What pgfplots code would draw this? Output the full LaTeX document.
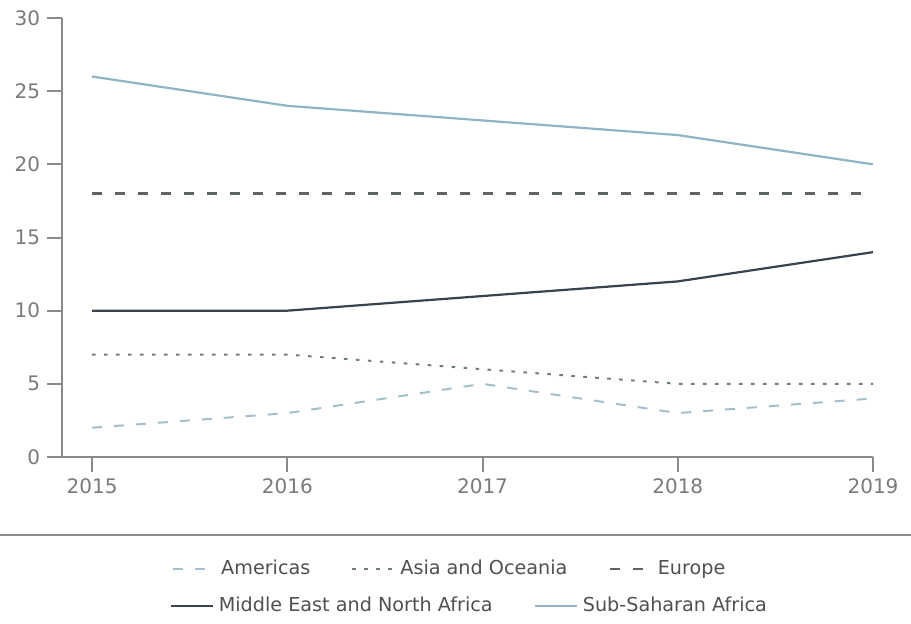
\documentclass[border=0pt]{standalone}
\usepackage{pgfplots}
\pgfplotsset{compat=1.18}
\usepackage{fontspec}
\setmainfont{DejaVu Sans}
\definecolor{axgrey}{HTML}{8A8A8A}
\definecolor{txtgrey}{HTML}{7A7A7A}
\definecolor{legtxt}{HTML}{505050}
\definecolor{amer}{HTML}{A3BFCB}
\definecolor{asia}{HTML}{6E7C84}
\definecolor{euro}{HTML}{5E6366}
\definecolor{mena}{HTML}{38434D}
\definecolor{ssa}{HTML}{8FB4C6}
\pgfplotsset{
  mylegend/.style={
    legend cell align=left,
    legend image code/.code={\draw[##1] (0pt,0pt) -- (21pt,0pt);},
    legend style={anchor=center, draw=none, fill=none,
      font=\fontsize{9.6}{11}\selectfont, text=legtxt, column sep=0pt,
      nodes={inner xsep=2.5pt},
      /tikz/every even column/.append style={column sep=18pt}},
  }
}
\begin{document}
\begin{tikzpicture}
\useasboundingbox (-31pt,-83pt) rectangle (424.5pt,228.5pt);
\begin{axis}[
  at={(0,0)}, anchor=origin,
  scale only axis, width=405.5pt, height=219.5pt,
  xmin=2014.846, xmax=2019, ymin=0, ymax=30,
  axis lines=left, axis line style={-, axgrey, line width=1pt},
  xtick={2015,2016,2017,2018,2019}, ytick={0,5,10,15,20,25,30},
  xticklabel style={/pgf/number format/1000 sep={}},
  tick style={axgrey, line width=1pt},
  tick align=outside, major tick length=7.5pt,
  tick label style={font=\fontsize{10}{12}\selectfont, text=txtgrey},
  /pgf/number format/assume math mode=true,
  mylegend,
  legend columns=3,
  legend style={at={(axis description cs:0.48,-0.255)}},
  clip=false,
]
\addplot[amer, line width=1pt, dash pattern=on 5pt off 6pt] coordinates {(2015,2) (2016,3) (2017,5) (2018,3) (2019,4)};
\addlegendentry{Americas}
\addplot[asia, line width=1pt, dash pattern=on 1.8pt off 4.2pt] coordinates {(2015,7) (2016,7) (2017,6) (2018,5) (2019,5)};
\addlegendentry{Asia and Oceania}
\addplot[euro, line width=1.2pt, dash pattern=on 5pt off 6.5pt] coordinates {(2015,18) (2016,18) (2017,18) (2018,18) (2019,18)};
\addlegendentry{Europe}
\addplot[mena, line width=1.1pt, forget plot] coordinates {(2015,10) (2016,10) (2017,11) (2018,12) (2019,14)};
\addplot[ssa, line width=1.1pt, forget plot] coordinates {(2015,26) (2016,24) (2017,23) (2018,22) (2019,20)};
\end{axis}
\begin{axis}[
  at={(0,0)}, anchor=origin,
  scale only axis, width=405.5pt, height=219.5pt,
  xmin=0, xmax=1, ymin=0, ymax=1, hide axis,
  mylegend,
  legend columns=2,
  legend style={at={(axis description cs:0.504,-0.339)}},
]
\addlegendimage{mena, line width=1.1pt}
\addlegendentry{Middle East and North Africa}
\addlegendimage{ssa, line width=1.1pt}
\addlegendentry{Sub{-}Saharan Africa}
\end{axis}
\draw[color=black!45, line width=1pt] (-31pt,-39pt) -- (424.5pt,-39pt);
\end{tikzpicture}
\end{document}
